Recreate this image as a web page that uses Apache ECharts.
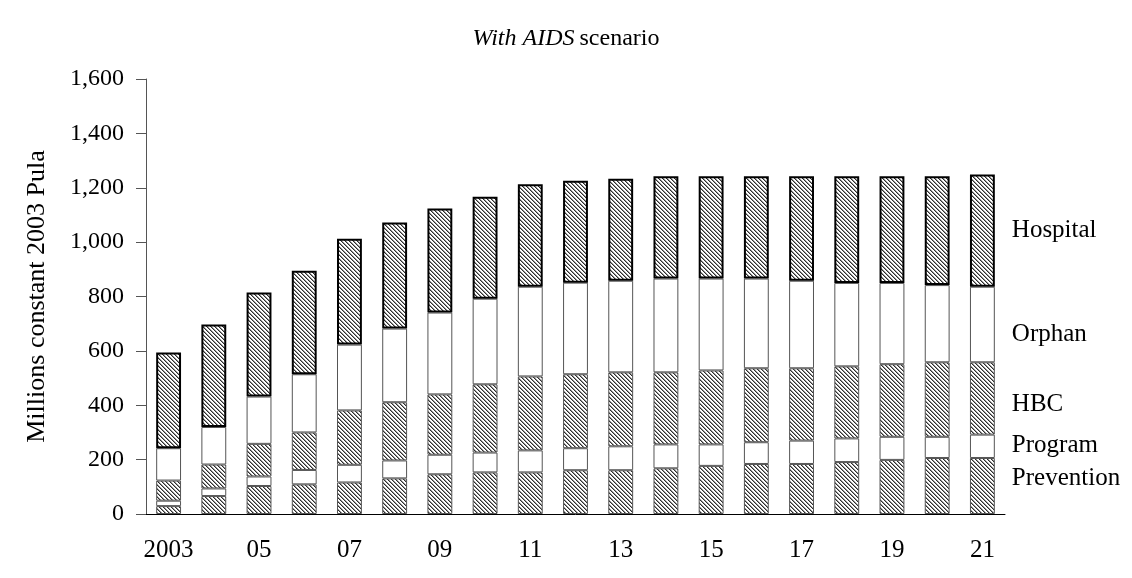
<!DOCTYPE html>
<html>
<head>
<meta charset="utf-8">
<script src="https://cdn.jsdelivr.net/npm/echarts@6/dist/echarts.min.js"></script>
<style>html,body{margin:0;padding:0;background:#fff;}#c{width:1132px;height:578px;}</style>
</head>
<body>
<div id="c"></div>
<script>
const categories = ['2003','04','05','06','07','08','09','10','11','12','13','14','15','16','17','18','19','20','21'];
const prevention = [29,66,103,109,116,131,146,153,153,161,161,168,177,184,184,191,199,206,206];
const program    = [20,28,35,53,65,66,72,73,81,81,88,88,79,80,86,87,85,78,86];
const hbc        = [74,88,120,138,200,214,222,251,272,272,272,265,272,272,266,265,267,274,266];
const orphan     = [119,138,174,214,242,271,301,315,330,337,337,345,338,330,322,307,299,284,278];
const hospital   = [352,377,383,381,389,390,383,375,377,375,375,376,376,376,384,392,392,400,413];
const yTicks = [0,200,400,600,800,1000,1200,1400,1600];

function hatch() {
  const c = document.createElement('canvas');
  c.width = 4; c.height = 4;
  const g = c.getContext('2d');
  g.fillStyle = '#ffffff'; g.fillRect(0,0,4,4);
  g.fillStyle = '#2e2e2e';
  for (let i = 0; i < 4; i++) { g.fillRect(i, i, 1, 1); }
  g.fillStyle = '#959595';
  for (let i = 0; i < 4; i++) { g.fillRect((i+1)%4, i, 1, 1); }
  return c;
}
const pat = hatch();
const FONT = 'Liberation Serif';
const n = categories.length;

function mk(name, vals, filled, offY, thick) {
  return {
    name: name, type: 'bar', stack: 'total', barWidth: '55%',
    itemStyle: {
      color: filled ? {image: pat, repeat: 'repeat'} : '#ffffff',
      borderColor: thick ? '#000000' : '#555555',
      borderWidth: thick ? 2 : 1
    },
    emphasis: {disabled: true},
    data: vals.map((v, i) => i === n - 1 ? {
      value: v,
      label: {show: true, position: 'right', distance: 17, offset: [0, offY],
        formatter: name, fontFamily: FONT, fontSize: 25, color: '#000'}
    } : v)
  };
}

const chart = echarts.init(document.getElementById('c'));
chart.setOption({
  animation: false,
  title: {
    text: '{i|With AIDS} {n|scenario}', left: 'center', top: 22,
    textStyle: {fontWeight: 'normal', rich: {
      i: {fontFamily: FONT, fontStyle: 'italic', fontWeight: 'normal', fontSize: 24, color: '#000'},
      n: {fontFamily: FONT, fontWeight: 'normal', fontSize: 24, color: '#000'}
    }}
  },
  grid: {left: 146, right: 127, top: 79, bottom: 64},
  xAxis: {
    type: 'category', data: categories,
    axisLine: {lineStyle: {color: '#000', width: 1}},
    axisTick: {show: false},
    axisLabel: {interval: 1, fontFamily: FONT, fontSize: 25, color: '#000', margin: 24}
  },
  yAxis: {
    type: 'value', min: 0, max: 1600, interval: 200,
    name: 'Millions constant 2003 Pula', nameLocation: 'middle', nameRotate: 90, nameGap: 96,
    nameTextStyle: {fontFamily: FONT, fontSize: 26, color: '#000'},
    splitLine: {show: false},
    axisLine: {show: true, lineStyle: {color: '#555', width: 1}},
    axisTick: {show: true, inside: false, length: 10, lineStyle: {color: '#555'}},
    axisLabel: {fontFamily: FONT, fontSize: 24, color: '#000', margin: 22,
      formatter: v => yTicks.includes(v) ? v.toLocaleString('en-US') : ''}
  },
  series: [
    mk('Prevention', prevention, true, -8, false),
    mk('Program', program, false, -1, false),
    mk('HBC', hbc, true, 6, false),
    mk('Orphan', orphan, false, 10, false),
    mk('Hospital', hospital, true, 0, true)
  ]
});
</script>
</body>
</html>
